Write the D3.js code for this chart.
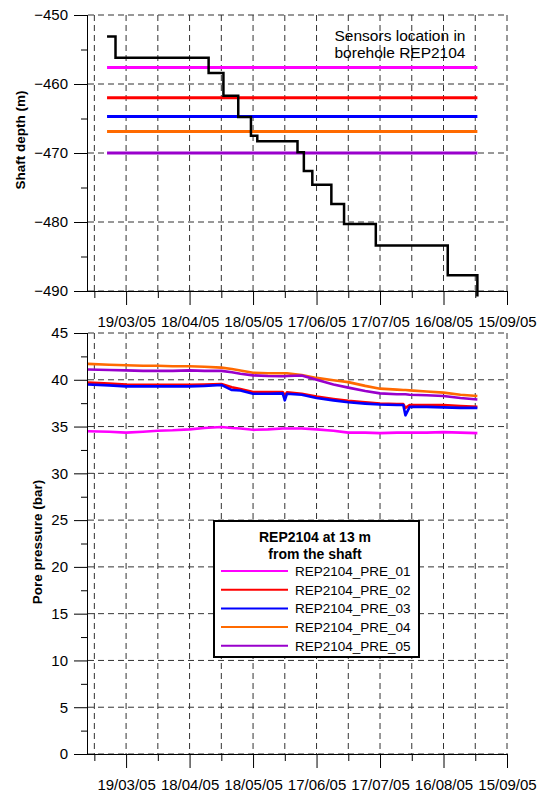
<!DOCTYPE html>
<html>
<head>
<meta charset="utf-8">
<script src="https://cdn.jsdelivr.net/npm/d3@7"></script>
<style>
  body { margin: 0; background: #fff; }
  svg { font-family: "Liberation Sans", Arial, sans-serif; }
  .grid line { stroke: #333; stroke-dasharray: 6,4; stroke-width: 1; }
  .axis path, .axis line { stroke: #000; }
  .axis text { font-size: 15px; fill: #000; }
</style>
</head>
<body>
<div id="chart"></div>
<script>
// ---- data ----
var majorTicks = ["2005-03-19","2005-04-18","2005-05-18","2005-06-17","2005-07-17","2005-08-16","2005-09-15"];
var minorTicks = ["2005-03-04","2005-04-03","2005-05-03","2005-06-02","2005-07-02","2005-08-01","2005-08-31"];

var depthTicks = [-450,-460,-470,-480,-490];
var depthMinor = [-455,-465,-475,-485];
var pressTicks = [0,5,10,15,20,25,30,35,40,45];
var pressMinor = [2.5,7.5,12.5,17.5,22.5,27.5,32.5,37.5,42.5];

// shaft excavation front (step after each date)
var shaftDates = ["2005-03-10","2005-03-14","2005-04-27","2005-05-04","2005-05-11","2005-05-17","2005-05-20",
                  "2005-06-08","2005-06-11","2005-06-15","2005-06-24","2005-06-30","2005-07-15","2005-08-18","2005-09-01"];
var shaftDepth = [-453.1,-456.2,-458.4,-461.7,-464.8,-467.5,-468.3,-469.9,-472.6,-474.6,-477.4,-480.3,-483.4,-487.7,-490.8];

// sensor depths in borehole
var sensorNames = ["REP2104_PRE_01","REP2104_PRE_02","REP2104_PRE_03","REP2104_PRE_04","REP2104_PRE_05"];
var sensorColors = ["#ff00ff","#ff0000","#0000ff","#ff6a00","#9900cc"];
var sensorDepth = [-457.6,-462.0,-464.7,-466.9,-470.0];
var sensorFrom = "2005-03-10", sensorTo = "2005-09-01";

// pore pressure series
var pDates = ["2005-03-01","2005-03-11","2005-03-19","2005-03-27","2005-04-03","2005-04-10","2005-04-18","2005-04-25",
              "2005-05-03","2005-05-08","2005-05-12","2005-05-18","2005-05-25","2005-06-01","2005-06-02","2005-06-03",
              "2005-06-10","2005-06-17","2005-06-25","2005-07-02","2005-07-10","2005-07-17","2005-07-25","2005-07-28",
              "2005-07-29","2005-07-31","2005-08-08","2005-08-16","2005-08-24","2005-09-01"];
var pre01 = [34.5,34.45,34.35,34.45,34.55,34.6,34.7,34.85,34.95,34.85,34.8,34.65,34.7,34.8,34.8,34.8,
             34.8,34.7,34.55,34.35,34.35,34.3,34.35,34.35,34.35,34.35,34.35,34.4,34.35,34.3];
var pre02 = [39.7,39.6,39.5,39.45,39.45,39.45,39.45,39.5,39.55,39.2,39.0,38.7,38.7,38.7,38.3,38.65,
             38.5,38.2,37.95,37.75,37.6,37.45,37.4,37.4,37.0,37.3,37.3,37.3,37.2,37.1];
var pre03 = [39.5,39.4,39.3,39.3,39.3,39.3,39.3,39.35,39.45,38.9,38.85,38.5,38.5,38.55,37.8,38.5,
             38.4,38.05,37.8,37.6,37.45,37.35,37.3,37.3,36.2,37.1,37.1,37.05,37.0,37.0];
var pre04 = [41.7,41.6,41.55,41.5,41.5,41.45,41.45,41.4,41.3,41.15,41.0,40.75,40.7,40.7,40.7,40.7,
             40.5,40.2,39.95,39.75,39.35,39.05,38.95,38.9,38.9,38.87,38.75,38.63,38.4,38.27];
var pre05 = [41.1,41.05,41.0,40.95,40.95,40.95,41.0,40.95,40.95,40.8,40.65,40.47,40.4,40.37,40.37,40.4,
             40.45,40.0,39.5,39.16,38.8,38.55,38.45,38.45,38.45,38.4,38.35,38.27,38.05,37.9];
var pressSeries = [pre01, pre02, pre03, pre04, pre05];

// ---- layout ----
var W = 542, H = 793;
var parse = d3.timeParse("%Y-%m-%d");
var fmt = d3.timeFormat("%d/%m/%y");

var svg = d3.select("#chart").append("svg")
  .attr("width", W).attr("height", H);

var x = d3.scaleTime()
  .domain([parse("2005-03-01"), parse("2005-09-15")])
  .range([88, 507]);

var yTop = d3.scaleLinear().domain([-450, -490]).range([15, 291]);
var yBot = d3.scaleLinear().domain([45, 0]).range([333, 754]);

var allXTicks = majorTicks.concat(minorTicks).map(parse);

function drawFrame(y, yMajor, yMinor, yFmt) {
  var y0 = y.range()[1], y1 = y.range()[0];
  var g = svg.append("g");

  // grid
  g.append("g").attr("class", "grid")
    .selectAll("line").data(allXTicks).enter().append("line")
      .attr("x1", function(d) { return x(d); }).attr("x2", function(d) { return x(d); })
      .attr("y1", y1).attr("y2", y0);
  g.append("g").attr("class", "grid")
    .selectAll("line").data(yMajor).enter().append("line")
      .attr("x1", 88).attr("x2", 507)
      .attr("y1", function(d) { return y(d); }).attr("y2", function(d) { return y(d); });

  // x axis: labelled major ticks + short minor ticks
  g.append("g").attr("class", "axis")
    .attr("transform", "translate(0," + y0 + ")")
    .call(d3.axisBottom(x).tickValues(majorTicks.map(parse)).tickSize(14).tickPadding(11).tickFormat(fmt))
    .call(function(a) { a.select(".domain").attr("d", "M88,0.5H507"); });
  g.append("g").attr("class", "axis")
    .attr("transform", "translate(0," + y0 + ")")
    .call(d3.axisBottom(x).tickValues(minorTicks.map(parse)).tickSize(7).tickFormat(""))
    .call(function(a) { a.select(".domain").remove(); });

  // y axis
  g.append("g").attr("class", "axis")
    .attr("transform", "translate(88,0)")
    .call(d3.axisLeft(y).tickValues(yMajor).tickSize(14).tickPadding(6).tickFormat(yFmt))
    .call(function(a) { a.select(".domain").attr("d", "M-0.5," + y1 + "V" + y0); });
  g.append("g").attr("class", "axis")
    .attr("transform", "translate(88,0)")
    .call(d3.axisLeft(y).tickValues(yMinor).tickSize(7).tickFormat(""))
    .call(function(a) { a.select(".domain").remove(); });
  return g;
}

// ---- top panel: shaft depth ----
drawFrame(yTop, depthTicks, depthMinor, d3.format("d"));

svg.append("g").selectAll("line").data(sensorDepth).enter().append("line")
  .attr("x1", x(parse(sensorFrom))).attr("x2", x(parse(sensorTo)))
  .attr("y1", function(d) { return yTop(d); }).attr("y2", function(d) { return yTop(d); })
  .attr("stroke", function(d, i) { return sensorColors[i]; })
  .attr("stroke-width", 3);

var shaft = shaftDates.map(function(d, i) { return [parse(d), shaftDepth[i]]; });
svg.append("path")
  .datum(shaft)
  .attr("fill", "none").attr("stroke", "#000").attr("stroke-width", 2.5)
  .attr("d", d3.line().curve(d3.curveStepAfter)
    .x(function(d) { return x(d[0]); }).y(function(d) { return yTop(d[1]); }));

var note = svg.append("text").attr("text-anchor", "middle").attr("font-size", 15.5);
note.append("tspan").attr("x", 400).attr("y", 41).text("Sensors location in");
note.append("tspan").attr("x", 400).attr("y", 58).text("borehole REP2104");

svg.append("text")
  .attr("transform", "translate(25,140) rotate(-90)")
  .attr("text-anchor", "middle").attr("font-size", 13.5).attr("font-weight", "bold")
  .text("Shaft depth (m)");

// ---- bottom panel: pore pressure ----
drawFrame(yBot, pressTicks, pressMinor, d3.format("d"));

var pLine = d3.line()
  .x(function(d, i) { return x(parse(pDates[i])); })
  .y(function(d) { return yBot(d); });

var order = [0, 3, 4, 1, 2];
order.forEach(function(k) {
  svg.append("path")
    .datum(pressSeries[k])
    .attr("fill", "none")
    .attr("stroke", sensorColors[k])
    .attr("stroke-width", 2.6)
    .attr("stroke-linejoin", "round")
    .attr("d", pLine);
});

svg.append("text")
  .attr("transform", "translate(42,542) rotate(-90)")
  .attr("text-anchor", "middle").attr("font-size", 13.5).attr("font-weight", "bold")
  .text("Pore pressure (bar)");

// legend
var lg = svg.append("g").attr("transform", "translate(214,521)");
lg.append("rect").attr("width", 205).attr("height", 136)
  .attr("fill", "#fff").attr("stroke", "#000").attr("stroke-width", 2);
var lt = lg.append("text").attr("text-anchor", "middle").attr("font-size", 14).attr("font-weight", "bold");
lt.append("tspan").attr("x", 101).attr("y", 21).text("REP2104 at 13 m");
lt.append("tspan").attr("x", 101).attr("y", 38).text("from the shaft");

var items = lg.selectAll(".item").data(sensorNames).enter().append("g")
  .attr("transform", function(d, i) { return "translate(0," + (50 + i * 18.7) + ")"; });
items.append("line")
  .attr("x1", 7).attr("x2", 74)
  .attr("stroke", function(d, i) { return sensorColors[i]; })
  .attr("stroke-width", 2);
items.append("text")
  .attr("x", 81).attr("y", 5).attr("font-size", 13.5)
  .text(function(d) { return d; });
</script>
</body>
</html>
